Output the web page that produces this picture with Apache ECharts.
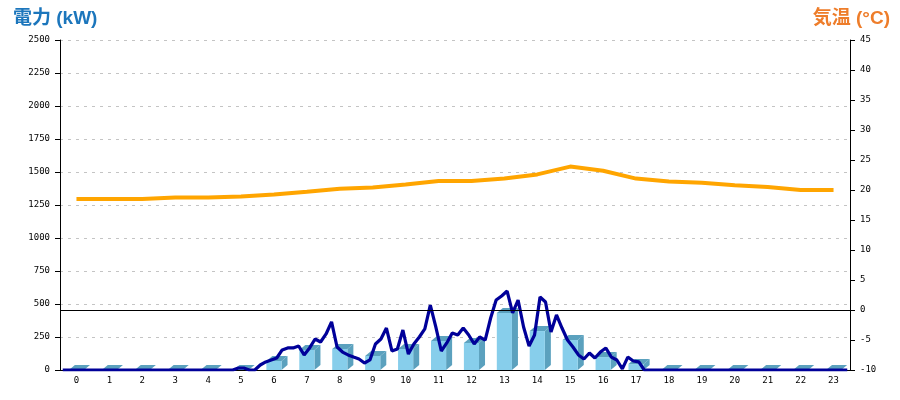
<!DOCTYPE html>
<html>
<head>
<meta charset="utf-8">
<script src="https://cdn.jsdelivr.net/npm/echarts@6/dist/echarts.min.js"></script>
<style>html,body{margin:0;padding:0;background:#fff}#c{width:900px;height:400px}</style>
</head>
<body>
<div id="c"></div>
<script>
// ---- data ----
const hours = ['0','1','2','3','4','5','6','7','8','9','10','11','12','13','14','15','16','17','18','19','20','21','22','23'];
const hourlyPower = [0,0,0,0,0,0,68,152,159,106,159,220,205,432,295,227,98,45,0,0,0,0,0,0];
const temperature = [18.5,18.5,18.5,18.75,18.75,18.9,19.25,19.7,20.2,20.4,20.9,21.5,21.5,21.9,22.6,23.9,23.2,21.9,21.4,21.2,20.8,20.5,20.0,20.0];
const powerSlots = [
  0,0,0,0,0,0,0,0,0,0,
  0,0,0,0,0,0,0,0,0,0,
  0,0,0,0,0,0,0,0,0,0,
  0,0,15,15,0,0,38,61,76,91,
  152,167,167,182,114,167,235,212,273,364,
  174,136,114,98,83,53,76,197,235,318,
  144,159,303,121,197,250,311,492,326,144,
  205,280,265,318,265,197,250,227,394,530,
  561,598,432,530,326,182,265,553,515,288,
  417,318,227,174,114,83,129,91,136,167,
  98,76,8,98,68,61,0,0,0,0,
  0,0,0,0,0,0,0,0,0,0,
  0,0,0,0,0,0,0,0,0,0,
  0,0,0,0,0,0,0,0,0,0,
  0,0,0,0
];
const slotLabels = powerSlots.map((_, i) => String(i));
const powerTicks = {min: 0, max: 2500, interval: 250};
const tempTicks = {min: -10, max: 45, interval: 5};
const titleLeft = '電力 (kW)';
const titleRight = '気温 (°C)';

// ---- chart ----
const chart = echarts.init(document.getElementById('c'), null, {renderer: 'canvas'});
const labelFont = {fontFamily: 'DejaVu Sans Mono', fontSize: 9, color: '#000', formatter: v => String(v)};
const FRONT = '#87CEEB', SIDE = '#5BA1BE';
const titleFont = "'Liberation Sans', 'Noto Sans CJK JP', sans-serif";

chart.setOption({
  animation: false,
  backgroundColor: '#fff',
  title: [
    {text: titleLeft, left: 8, top: 4, textStyle: {fontFamily: titleFont, fontWeight: 'bold', fontSize: 19, color: '#1C76BC'}},
    {text: titleRight, right: 5, top: 4, textStyle: {fontFamily: titleFont, fontWeight: 'bold', fontSize: 19, color: '#EE7D2A'}}
  ],
  grid: {left: 60, right: 50, top: 40, bottom: 30},
  xAxis: [
    {type: 'category', data: hours, boundaryGap: true,
     axisLine: {lineStyle: {color: '#000', width: 1}}, axisTick: {show: false},
     axisLabel: Object.assign({margin: 6}, labelFont), splitLine: {show: false}},
    {type: 'category', data: slotLabels, boundaryGap: true, show: false}
  ],
  yAxis: [
    {type: 'value', position: 'left', min: powerTicks.min, max: powerTicks.max, interval: powerTicks.interval,
     axisLine: {show: true, lineStyle: {color: '#000', width: 1}},
     axisTick: {show: true, length: 5, lineStyle: {color: '#000'}},
     axisLabel: Object.assign({margin: 10}, labelFont),
     splitLine: {show: true, lineStyle: {color: '#c4c4c4', type: [3, 5], width: 1}}},
    {type: 'value', position: 'right', min: tempTicks.min, max: tempTicks.max, interval: tempTicks.interval,
     axisLine: {show: true, onZero: false, lineStyle: {color: '#000', width: 1}},
     axisTick: {show: true, length: 5, lineStyle: {color: '#000'}},
     axisLabel: Object.assign({margin: 10}, labelFont),
     splitLine: {show: false}}
  ],
  series: [
    {
      type: 'custom', xAxisIndex: 0, yAxisIndex: 0, z: 2,
      data: hourlyPower.map((v, i) => [i, v]),
      renderItem: function (params, api) {
        const top = api.coord([api.value(0), api.value(1)]);
        const base = api.coord([api.value(0), 0]);
        const band = api.size([1, 0])[0];
        const w = band * 0.46, dx = 6, dy = 5;
        const l = top[0] - w / 2, r = top[0] + w / 2, t = top[1], b = base[1];
        return {type: 'group', children: [
          {type: 'polygon', shape: {points: [[r, b], [r + dx, b - dy], [r + dx, t - dy], [r, t]]}, style: {fill: SIDE}},
          {type: 'polygon', shape: {points: [[l, t], [r, t], [r + dx, t - dy], [l + dx, t - dy]]}, style: {fill: SIDE}},
          {type: 'rect', shape: {x: l, y: t, width: w, height: b - t}, style: {fill: FRONT}}
        ]};
      }
    },
    {
      type: 'line', xAxisIndex: 0, yAxisIndex: 1, z: 3,
      data: temperature, showSymbol: false, symbol: 'none',
      lineStyle: {color: '#FFA500', width: 4}, itemStyle: {color: '#FFA500'},
      markLine: {silent: true, symbol: 'none', label: {show: false},
        lineStyle: {color: '#000', width: 1, type: 'solid'}, data: [{yAxis: 0}]}
    },
    {
      type: 'line', xAxisIndex: 1, yAxisIndex: 0, z: 4,
      data: powerSlots, showSymbol: false, symbol: 'none',
      lineStyle: {color: '#000099', width: 3.2}, itemStyle: {color: '#000099'}
    }
  ]
});
</script>
</body>
</html>
